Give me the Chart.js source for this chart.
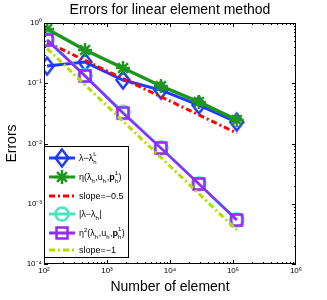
<!DOCTYPE html>
<html>
<head>
<meta charset="utf-8">
<script src="https://cdn.jsdelivr.net/npm/chart.js@4"></script>
<style>
  body { margin: 0; background: #fff; }
  canvas { display: block; }
</style>
</head>
<body>
<canvas id="grafico" width="327" height="300"></canvas>
<script>
// number of elements (x) and error values
const elements = [112, 448, 1792, 7168, 28672, 114688];
const errLambdaL = [0.193, 0.225, 0.113, 0.077, 0.0435, 0.0227];
const errEta = [0.795, 0.356, 0.179, 0.090, 0.0489, 0.0246];
const slopeHalf = [0.477, 0.239, 0.119, 0.0597, 0.0299, 0.0149];
const errLambda = [0.53, 0.134, 0.033, 0.0085, 0.00215, 0.00054];
const errEta2 = [0.522, 0.132, 0.032, 0.0084, 0.00213, 0.000537];
const slopeOne = [0.376, 0.094, 0.0235, 0.00587, 0.00147, 0.000367];

const xTicks = [1e2, 1e3, 1e4, 1e5, 1e6];
const yTicks = [1e-4, 1e-3, 1e-2, 1e-1, 1];

const FONT = "'Liberation Sans', Arial, sans-serif";

const blue = "rgb(30,60,255)";
const green = "rgb(30,150,30)";
const red = "rgb(255,0,0)";
const cyan = "rgb(70,230,190)";
const purple = "rgb(150,40,250)";
const lime = "rgb(185,220,0)";

const SUP = { "-": "\u207B", "0": "\u2070", "1": "\u00B9", "2": "\u00B2", "3": "\u00B3", "4": "\u2074", "5": "\u2075", "6": "\u2076" };
function powLabel(v) {
    const e = Math.round(Math.log10(v));
    return "10" + String(e).split("").map(c => SUP[c]).join("");
}

function marker(kind, color) {
    const c = document.createElement("canvas");
    c.width = 22; c.height = 22;
    const g = c.getContext("2d");
    g.strokeStyle = color;
    g.lineWidth = 2.5;
    g.beginPath();
    if (kind === "diamond") {
        g.moveTo(4.5, 11); g.lineTo(11, 2.5); g.lineTo(17.5, 11); g.lineTo(11, 19.5); g.closePath();
    } else if (kind === "star") {
        for (let k = 0; k < 4; k++) {
            const a = k * Math.PI / 4;
            g.moveTo(11 - 7 * Math.cos(a), 11 - 7 * Math.sin(a));
            g.lineTo(11 + 7 * Math.cos(a), 11 + 7 * Math.sin(a));
        }
    } else if (kind === "square") {
        g.rect(5.5, 5.5, 11, 11);
    } else if (kind === "circle") {
        g.arc(11, 11, 6.5, 0, Math.PI * 2);
    }
    g.stroke();
    return c;
}

const mkDiamond = marker("diamond", blue);
const mkStar = marker("star", green);
const mkCircle = marker("circle", cyan);
const mkSquare = marker("square", purple);

function pts(ys) {
    return elements.map((x, i) => ({ x: x, y: ys[i] }));
}

const datasets = [
    { data: pts(errLambdaL), borderColor: blue, borderWidth: 3, pointStyle: mkDiamond, order: 5 },
    { data: pts(errEta), borderColor: green, borderWidth: 3.5, pointStyle: mkStar, order: 4 },
    { data: pts(slopeHalf), borderColor: red, borderWidth: 3, borderDash: [6, 3, 2, 3], pointRadius: 0, order: 3 },
    { data: pts(errLambda), borderColor: cyan, borderWidth: 3, pointStyle: mkCircle, order: 2 },
    { data: pts(errEta2), borderColor: purple, borderWidth: 2.5, pointStyle: mkSquare, order: 1 },
    { data: pts(slopeOne), borderColor: lime, borderWidth: 3, borderDash: [6, 3, 2, 3], pointRadius: 0, order: 0 },
];
datasets.forEach(d => { d.fill = false; d.tension = 0; if (d.pointRadius === undefined) d.pointRadius = 6; });

// legend rows: segments of text, with optional sub / sup / bold
const legendRows = [
    { line: blue, dash: [], img: mkDiamond, text: [["\u03BB\u2212\u03BB"], ["h", "sub", "L"]] },
    { line: green, dash: [], img: mkStar, text: [["\u03B7(\u03BB"], ["h", "sub"], [",u"], ["h", "sub"], [","], ["p", "bold"], ["h", "sub", "1"], [")"]] },
    { line: red, dash: [6, 3, 2, 3], img: null, text: [["slope=\u22120.5"]] },
    { line: cyan, dash: [], img: mkCircle, text: [["|\u03BB\u2212\u03BB"], ["h", "sub"], ["|"]] },
    { line: purple, dash: [], img: mkSquare, text: [["\u03B7"], ["2", "sup"], ["(\u03BB"], ["h", "sub"], [",u"], ["h", "sub"], [","], ["p", "bold"], ["h", "sub", "1"], [")"]] },
    { line: lime, dash: [6, 3, 2, 3], img: null, text: [["slope=\u22121"]] },
];
const legendRowY = [158, 177, 196, 214, 233, 250];

const framePlugin = {
    id: "frame",
    afterDatasetsDraw(chart) {
        const ctx = chart.ctx;
        const a = chart.chartArea;
        const xs = chart.scales.x, ys = chart.scales.y;
        ctx.save();
        // title centred over the axes
        ctx.fillStyle = "#000";
        ctx.font = "14px " + FONT;
        ctx.textAlign = "center";
        ctx.textBaseline = "middle";
        ctx.fillText("Errors for linear element method", (a.left + a.right) / 2, 10.5);
        ctx.textAlign = "left";

        // box with inward ticks
        ctx.strokeStyle = "#000";
        ctx.lineWidth = 1;
        ctx.strokeRect(a.left + 0.5, a.top + 0.5, a.right - a.left - 1, a.bottom - a.top - 1);
        ctx.beginPath();
        for (let e = 2; e < 6; e++) {
            for (let k = 1; k <= 9; k++) {
                const px = Math.round(xs.getPixelForValue(k * Math.pow(10, e))) + 0.5;
                const len = k === 1 ? 4 : 2;
                ctx.moveTo(px, a.bottom); ctx.lineTo(px, a.bottom - len);
                ctx.moveTo(px, a.top); ctx.lineTo(px, a.top + len);
            }
        }
        for (let e = -4; e < 0; e++) {
            for (let k = 1; k <= 9; k++) {
                const py = Math.round(ys.getPixelForValue(k * Math.pow(10, e))) + 0.5;
                const len = k === 1 ? 4 : 2;
                ctx.moveTo(a.left, py); ctx.lineTo(a.left + len, py);
                ctx.moveTo(a.right, py); ctx.lineTo(a.right - len, py);
            }
        }
        ctx.stroke();

        // legend
        const lx = a.left, ly = 146, lw = 84, lh = 111;
        ctx.fillStyle = "#fff";
        ctx.fillRect(lx, ly, lw, lh);
        ctx.strokeRect(lx + 0.5, ly + 0.5, lw, lh);
        legendRows.forEach((r, i) => {
            const y = legendRowY[i];
            ctx.strokeStyle = r.line;
            ctx.lineWidth = 3;
            ctx.setLineDash(r.dash);
            ctx.beginPath();
            ctx.moveTo(lx + 5, y); ctx.lineTo(lx + 31, y);
            ctx.stroke();
            ctx.setLineDash([]);
            if (r.img) ctx.drawImage(r.img, lx + 18 - 11, y - 11);
            let tx = lx + 35;
            ctx.fillStyle = "#000";
            ctx.textBaseline = "alphabetic";
            r.text.forEach(seg => {
                const [t, kind, extra] = seg;
                if (kind === "sub") {
                    ctx.font = "6px " + FONT;
                    ctx.fillText(t, tx, y + 5.5);
                    let w = ctx.measureText(t).width;
                    if (extra) {
                        ctx.fillText(extra, tx, y - 2);
                        w = Math.max(w, ctx.measureText(extra).width);
                    }
                    tx += w + 0.5;
                } else if (kind === "sup") {
                    ctx.font = "6px " + FONT;
                    ctx.fillText(t, tx, y - 1);
                    tx += ctx.measureText(t).width;
                } else {
                    ctx.font = (kind === "bold" ? "bold " : "") + "9px " + FONT;
                    ctx.fillText(t, tx, y + 3);
                    tx += ctx.measureText(t).width;
                }
            });
        });
        ctx.restore();
    }
};

new Chart(document.getElementById("grafico"), {
    type: "line",
    data: { datasets },
    options: {
        responsive: false,
        animation: false,
        devicePixelRatio: 1,
        layout: { padding: { left: 0, right: 31, top: 23, bottom: 0 } },
        plugins: {
            legend: { display: false },
            tooltip: { enabled: false },
            title: { display: false },
        },
        scales: {
            x: {
                type: "logarithmic",
                min: 1e2,
                max: 1e6,
                afterBuildTicks: s => { s.ticks = xTicks.map(v => ({ value: v })); },
                afterFit: s => { s.height = 36; },
                grid: { display: false, drawTicks: false, tickLength: 0 },
                border: { display: false },
                ticks: {
                    color: "#000",
                    padding: 2,
                    maxRotation: 0,
                    font: { family: FONT, size: 8 },
                    callback: v => powLabel(v),
                },
                title: {
                    display: true,
                    text: "Number of element",
                    color: "#000",
                    font: { family: FONT, size: 14, lineHeight: 1.2 },
                    padding: { top: 0, bottom: 4.6 },
                },
            },
            y: {
                type: "logarithmic",
                min: 1e-4,
                max: 1,
                afterBuildTicks: s => { s.ticks = yTicks.map(v => ({ value: v })); },
                afterFit: s => { s.width = 44; },
                grid: { display: false, drawTicks: false, tickLength: 0 },
                border: { display: false },
                ticks: {
                    color: "#000",
                    padding: 2,
                    font: { family: FONT, size: 8 },
                    callback: v => powLabel(v),
                },
                title: {
                    display: true,
                    text: "Errors",
                    color: "#000",
                    font: { family: FONT, size: 14, lineHeight: 1.2 },
                    padding: { top: 3.6, bottom: 0 },
                },
            },
        },
    },
    plugins: [framePlugin],
});
</script>
</body>
</html>
